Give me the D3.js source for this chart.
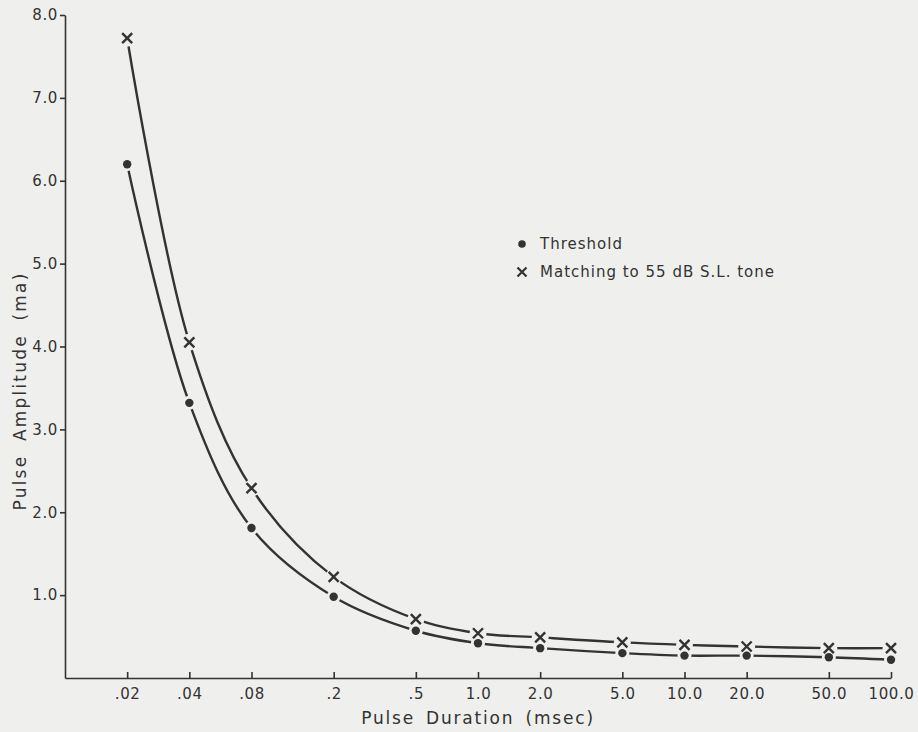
<!DOCTYPE html>
<html>
<head>
<meta charset="utf-8">
<script src="https://cdn.jsdelivr.net/npm/d3@7"></script>
<style>
  body { margin: 0; background: #efefed; }
  svg { display: block; }
  text { font-family: "DejaVu Sans", sans-serif; fill: #333; }
</style>
</head>
<body>
<svg id="chart" width="918" height="732"></svg>
<script>
(function() {

  var durations = [0.02, 0.04, 0.08, 0.2, 0.5, 1, 2, 5, 10, 20, 50, 100],
  durationLabels = [".02", ".04", ".08", ".2", ".5", "1.0", "2.0", "5.0", "10.0", "20.0", "50.0", "100.0"],
  thresholdValues = [6.20, 3.32, 1.81, 0.98, 0.57, 0.42, 0.36, 0.30, 0.27, 0.27, 0.25, 0.22],
  matchingValues  = [7.72, 4.05, 2.29, 1.22, 0.71, 0.54, 0.49, 0.43, 0.40, 0.38, 0.36, 0.36],
  amplitudeTicks = [1, 2, 3, 4, 5, 6, 7, 8],
  legendNames = ["Threshold", "Matching to 55 dB S.L. tone"];

  var ink = "#333",
  bg = "#efefed",
  svg = d3.select("#chart");

  var x = d3.scaleLog().domain([0.01, 100]).range([65, 891]);
  var y = d3.scaleLinear().domain([0, 8]).range([678, 15]);

  // y axis, ticks outward
  var yAxis = d3.axisLeft(y)
    .tickValues(amplitudeTicks)
    .tickFormat(d3.format(".1f"))
    .tickSize(5)
    .tickSizeOuter(0)
    .tickPadding(2);

  var gy = svg.append("g")
    .attr("transform", "translate(" + x.range()[0] + ",0)")
    .call(yAxis);

  // x axis, ticks inward
  var xAxis = d3.axisBottom(x)
    .tickValues(durations)
    .tickFormat(function(d, i) { return durationLabels[i]; })
    .tickSize(-6)
    .tickSizeOuter(0)
    .tickPadding(10);

  var gx = svg.append("g")
    .attr("transform", "translate(0," + y(0) + ")")
    .call(xAxis);

  [gx, gy].forEach(function(g) {
    g.selectAll("path, line").attr("stroke", ink).attr("stroke-width", 1.6);
    g.selectAll("text")
      .attr("font-size", 15)
      .attr("letter-spacing", 0.6)
      .attr("fill", ink)
      .style("font-family", "DejaVu Sans, sans-serif");
  });

  // axis titles
  svg.append("text")
    .attr("x", 478)
    .attr("y", 724)
    .attr("text-anchor", "middle")
    .attr("font-size", 17)
    .attr("letter-spacing", 1.8)
    .attr("word-spacing", 4)
    .text("Pulse Duration (msec)");

  svg.append("text")
    .attr("transform", "translate(26,391) rotate(-90)")
    .attr("text-anchor", "middle")
    .attr("font-size", 17)
    .attr("letter-spacing", 2.2)
    .attr("word-spacing", 6)
    .text("Pulse Amplitude (ma)");

  // curves
  var line = d3.line()
    .x(function(d) { return x(d[0]); })
    .y(function(d) { return y(d[1]); })
    .curve(d3.curveCatmullRom.alpha(0.5));

  var series = [thresholdValues, matchingValues];

  svg.selectAll(".curve")
    .data(series)
    .enter().append("path")
      .attr("class", "curve")
      .attr("fill", "none")
      .attr("stroke", ink)
      .attr("stroke-width", 2.4)
      .attr("d", function(vals) {
        return line(durations.map(function(d, i) { return [d, vals[i]]; }));
      });

  // halos to break the curves around markers
  series.forEach(function(vals, s) {
    svg.append("g").selectAll("circle")
      .data(vals)
      .enter().append("circle")
        .attr("cx", function(d, i) { return x(durations[i]); })
        .attr("cy", function(d) { return y(d); })
        .attr("r", s === 0 ? 7 : 8.5)
        .attr("fill", bg);
  });

  // threshold dots
  svg.append("g").selectAll("circle")
    .data(thresholdValues)
    .enter().append("circle")
      .attr("cx", function(d, i) { return x(durations[i]); })
      .attr("cy", function(d) { return y(d); })
      .attr("r", 4.2)
      .attr("fill", ink);

  // matching crosses
  var cross = function(cx, cy, s) {
    return "M" + (cx - s) + "," + (cy - s) + "L" + (cx + s) + "," + (cy + s) +
           "M" + (cx - s) + "," + (cy + s) + "L" + (cx + s) + "," + (cy - s);
  };

  svg.append("g").selectAll("path")
    .data(matchingValues)
    .enter().append("path")
      .attr("d", function(d, i) { return cross(x(durations[i]), y(d), 5); })
      .attr("stroke", ink)
      .attr("stroke-width", 2.4)
      .attr("fill", "none");

  // legend
  var legend = svg.append("g").attr("transform", "translate(522,244)");

  legend.append("circle").attr("cx", 0).attr("cy", 0).attr("r", 3.8).attr("fill", ink);
  legend.append("path").attr("d", cross(0, 28, 4.5)).attr("stroke", ink).attr("stroke-width", 2.2);

  legend.selectAll("text")
    .data(legendNames)
    .enter().append("text")
      .attr("x", 18)
      .attr("y", function(d, i) { return i * 28 + 5; })
      .attr("font-size", 15)
      .attr("letter-spacing", 1)
      .text(function(d) { return d; });

}());
</script>
</body>
</html>
